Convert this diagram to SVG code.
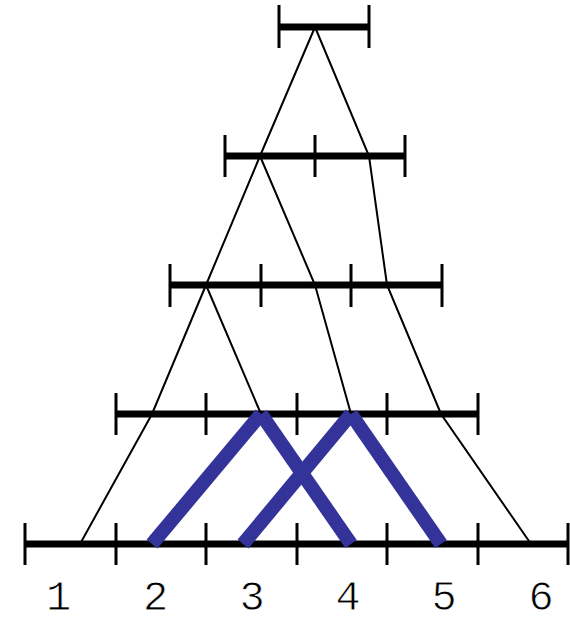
<svg xmlns="http://www.w3.org/2000/svg" width="570" height="624" viewBox="0 0 570 624">
<style>
.bar{stroke:#000;stroke-width:7;fill:none}
.tick{stroke:#000;stroke-width:3;fill:none}
.thin{stroke:#000;stroke-width:2;fill:none}
.blue{stroke:#333399;stroke-width:14;stroke-linecap:butt;fill:none}
.lbl{font-family:"Liberation Mono","DejaVu Sans Mono",monospace;font-size:42px;fill:#000;stroke:#fff;stroke-width:0.8;text-anchor:middle}
</style>
<rect width="570" height="624" fill="#fff"/>
<g id="connectors">
<path class="thin" d="M315,27 L260,156 L206,285 L152,414 L80,544"/>
<path class="thin" d="M315,27 L369,156 L387,285 L441,414 L531,544"/>
<path class="thin" d="M260,156 L315,285 L351,414"/>
<path class="thin" d="M206,285 L261,414"/>
</g>
<g id="level1">
<line class="bar" x1="279" y1="27" x2="369" y2="27"/>
<path class="tick" d="M279,5V48M369,5V48"/>
</g>
<g id="level2">
<line class="bar" x1="225" y1="156" x2="405" y2="156"/>
<path class="tick" d="M225,135V177M315,135V177M405,135V177"/>
</g>
<g id="level3">
<line class="bar" x1="170" y1="285" x2="442" y2="285"/>
<path class="tick" d="M170,264V307M261,264V307M351,264V307M442,264V307"/>
</g>
<g id="level4">
<line class="bar" x1="116" y1="414" x2="478" y2="414"/>
<path class="tick" d="M116,393V435M206,393V435M297,393V435M387,393V435M478,393V435"/>
</g>
<g id="level5">
<line class="bar" x1="25" y1="544" x2="568" y2="544"/>
<path class="tick" d="M25,523V565M116,523V565M206,523V565M297,523V565M387,523V565M478,523V565M568,523V565"/>
</g>
<g id="blue-paths">
<line class="blue" x1="152" y1="544" x2="261" y2="414"/>
<line class="blue" x1="261" y1="414" x2="351" y2="544"/>
<line class="blue" x1="243" y1="544" x2="351" y2="414"/>
<line class="blue" x1="351" y1="414" x2="441" y2="544"/>
</g>
<g id="labels">
<text class="lbl" x="58.5" y="610">1</text>
<text class="lbl" x="155.5" y="610">2</text>
<text class="lbl" x="252" y="610">3</text>
<text class="lbl" x="348" y="610">4</text>
<text class="lbl" x="444" y="610">5</text>
<text class="lbl" x="541" y="610">6</text>
</g>
</svg>
